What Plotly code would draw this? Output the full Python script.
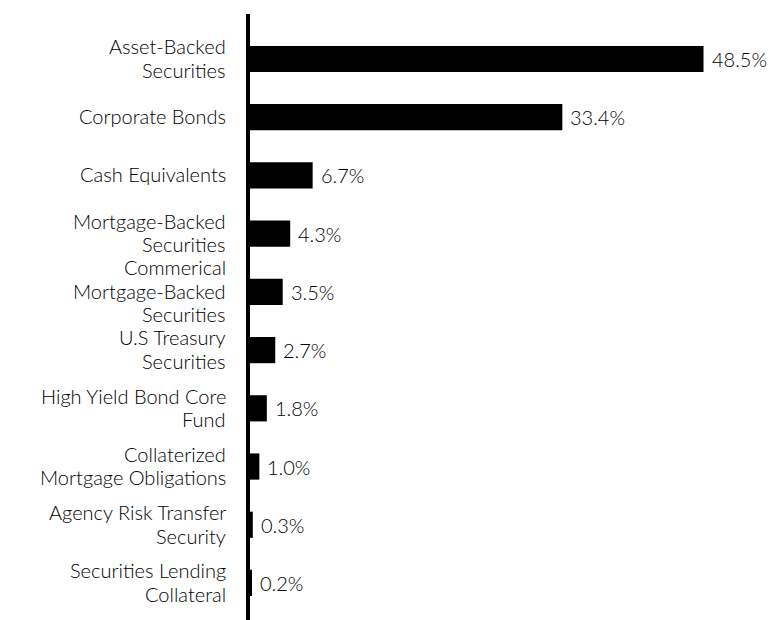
import plotly.graph_objects as go

categories = [
    "Asset-Backed\nSecurities",
    "Corporate Bonds",
    "Cash Equivalents",
    "Mortgage-Backed\nSecurities",
    "Commerical\nMortgage-Backed\nSecurities",
    "U.S Treasury\nSecurities",
    "High Yield Bond Core\nFund",
    "Collaterized\nMortgage Obligations",
    "Agency Risk Transfer\nSecurity",
    "Securities Lending\nCollateral",
]
values = [48.5, 33.4, 6.7, 4.3, 3.5, 2.7, 1.8, 1.0, 0.3, 0.2]
value_labels = ["48.5%", "33.4%", "6.7%", "4.3%", "3.5%", "2.7%", "1.8%", "1.0%", "0.3%", "0.2%"]

font_family = "Lato, 'Noto Sans', sans-serif"
font_size = 20
font_weight = 300
text_color = "#000000"
line_gap = 23.5

positions = list(range(len(categories)))

fig = go.Figure(
    go.Bar(
        x=values,
        y=positions,
        orientation="h",
        marker=dict(color="black", line=dict(width=0)),
        width=0.45,
        hoverinfo="skip",
    )
)

annotations = []
for i, cat in enumerate(categories):
    lines = cat.split("\n")
    n = len(lines)
    for j, line in enumerate(lines):
        annotations.append(dict(
            x=0, xref="paper", y=i, yref="y",
            text=line, showarrow=False,
            xanchor="right", yanchor="middle",
            xshift=-23, yshift=-(j - (n - 1) / 2) * line_gap + 1,
            borderpad=0,
            font=dict(size=font_size, color=text_color, family=font_family, weight=font_weight),
        ))
for i, (v, lab) in enumerate(zip(values, value_labels)):
    annotations.append(dict(
        x=v, xref="x", y=i, yref="y",
        text=lab, showarrow=False,
        xanchor="left", yanchor="middle",
        xshift=7, borderpad=0,
        font=dict(size=font_size, color=text_color, family=font_family, weight=font_weight),
    ))

fig.update_layout(
    width=775,
    height=620,
    margin=dict(l=242, r=0, t=6, b=8, autoexpand=False),
    paper_bgcolor="white",
    plot_bgcolor="white",
    showlegend=False,
    annotations=annotations,
    xaxis=dict(
        range=[0, 57],
        visible=False,
        showgrid=False,
        zeroline=False,
    ),
    yaxis=dict(
        range=[9.636, -0.773],
        showline=True,
        linecolor="black",
        linewidth=4,
        showgrid=False,
        zeroline=False,
        ticks="",
        showticklabels=False,
    ),
)

fig.write_html("out.html")
